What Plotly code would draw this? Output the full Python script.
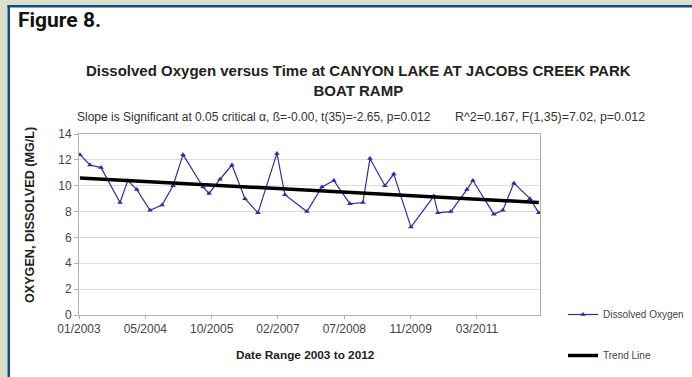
import pandas as pd
import plotly.graph_objects as go

# Sample dates and dissolved oxygen readings (mg/L)
sample_dates = [
    "2003-01-17", "2003-04-03", "2003-06-25", "2003-11-15", "2004-01-13",
    "2004-03-21", "2004-06-28", "2004-09-27", "2004-12-19", "2005-03-04",
    "2005-08-02", "2005-09-16", "2005-12-08", "2006-03-08", "2006-06-14",
    "2006-09-20", "2007-02-10", "2007-04-11", "2007-09-24", "2008-01-15",
    "2008-04-14", "2008-08-13", "2008-11-19", "2009-01-11", "2009-05-04",
    "2009-07-10", "2009-11-16", "2010-05-08", "2010-06-07", "2010-09-13",
    "2011-01-12", "2011-02-26", "2011-08-03", "2011-10-10", "2012-01-01",
    "2012-05-01", "2012-07-07",
]
oxygen = [
    12.4, 11.6, 11.4, 8.7, 10.4, 9.7, 8.1, 8.5, 10.0, 12.4,
    9.9, 9.4, 10.5, 11.6, 9.0, 7.9, 12.5, 9.3, 8.0, 9.9,
    10.4, 8.6, 8.7, 12.1, 10.0, 10.9, 6.8, 9.2, 7.9, 8.0,
    9.7, 10.4, 7.8, 8.1, 10.2, 9.0, 7.9,
]

# Fitted trend line, evaluated at the first and last sample
trend_dates = [sample_dates[0], sample_dates[-1]]
trend_values = [10.6, 8.7]

# Axis ticks: every 500 days from the axis start
axis_start = "2003-01-10"
axis_end = "2012-07-16"
tick_text = ["01/2003", "05/2004", "10/2005", "02/2007", "07/2008", "11/2009", "03/2011"]
tick_vals = list(pd.date_range(axis_start, periods=len(tick_text), freq="500D"))
y_ticks = [0, 2, 4, 6, 8, 10, 12, 14]

W, H = 692, 377
L, R, T, B = 79, 152, 134, 62
PW, PH = W - L - R, H - T - B


def px(x):
    return (x - L) / PW


def py(y):
    return (H - B - y) / PH


FONT = "Liberation Sans, Arial, sans-serif"
BLUE = "#2e2ea0"

fig = go.Figure()
fig.add_trace(go.Scatter(
    x=sample_dates, y=oxygen, mode="lines+markers", name="Dissolved Oxygen",
    line=dict(color=BLUE, width=1.2),
    marker=dict(symbol="triangle-up", size=5, color=BLUE),
    legendgroup="a",
))
fig.add_trace(go.Scatter(
    x=trend_dates, y=trend_values, mode="lines", name="Trend Line",
    line=dict(color="black", width=3.5),
    legendgroup="b",
))

fig.update_layout(
    width=W, height=H,
    margin=dict(l=L, r=R, t=T, b=B, autoexpand=False),
    paper_bgcolor="white", plot_bgcolor="white",
    font=dict(family=FONT, size=11, color="#333333"),
    showlegend=True,
    legend=dict(
        x=px(563), y=py(300), xanchor="left", yanchor="top",
        font=dict(size=10, color="#444444"),
        tracegroupgap=22, bgcolor="rgba(0,0,0,0)",
    ),
    xaxis=dict(
        type="date", range=[axis_start, axis_end],
        tickvals=tick_vals, ticktext=tick_text,
        showgrid=False, showline=True, linecolor="#b0b0b0", linewidth=1,
        mirror=True, ticks="outside", ticklen=3, tickcolor="#b0b0b0",
        tickfont=dict(size=12, color="#444444"), zeroline=False,
    ),
    yaxis=dict(
        range=[0, 14], tickvals=y_ticks,
        showgrid=True, gridcolor="#dcdcdc", gridwidth=1,
        showline=True, linecolor="#b0b0b0", linewidth=1, mirror=True,
        ticks="outside", ticklen=4, tickcolor="#b0b0b0",
        tickfont=dict(size=12, color="#444444"), zeroline=False,
    ),
)

# Page frame: tan margin strips with a blue rule
shapes = [
    dict(type="rect", xref="paper", yref="paper", x0=px(0), x1=px(W), y0=py(0), y1=py(5),
         fillcolor="#dde0c6", line_width=0, layer="above"),
    dict(type="rect", xref="paper", yref="paper", x0=px(0), x1=px(7.5), y0=py(0), y1=py(H),
         fillcolor="#dde0c6", line_width=0, layer="above"),
    dict(type="rect", xref="paper", yref="paper", x0=px(7.5), x1=px(W), y0=py(5), y1=py(7.5),
         fillcolor="#0f4f86", line_width=0, layer="above"),
    dict(type="rect", xref="paper", yref="paper", x0=px(7.5), x1=px(10), y0=py(5), y1=py(H),
         fillcolor="#0f4f86", line_width=0, layer="above"),
]
fig.update_layout(shapes=shapes)

annotations = [
    dict(text="<b>Figure 8.</b>", x=px(16), y=py(20), xanchor="left", yanchor="middle",
         font=dict(family="Roboto, Liberation Sans, sans-serif", size=21, color="#111111")),
    dict(text="<b>Dissolved Oxygen versus Time at CANYON LAKE AT JACOBS CREEK PARK"
              "<br>BOAT RAMP</b>",
         x=px(358), y=py(80), xanchor="center", yanchor="middle",
         font=dict(size=15, color="#222222")),
    dict(text="Slope is Significant at 0.05 critical α, ß=-0.00, t(35)=-2.65, p=0.012",
         x=px(75), y=py(117), xanchor="left", yanchor="middle",
         font=dict(size=12, color="#333333")),
    dict(text="R^2=0.167, F(1,35)=7.02, p=0.012",
         x=px(453), y=py(117), xanchor="left", yanchor="middle",
         font=dict(size=12.4, color="#333333")),
    dict(text="<b>OXYGEN, DISSOLVED (MG/L)</b>", x=px(30), y=py(215), textangle=-90,
         xanchor="center", yanchor="middle", font=dict(size=12.6, color="#222222")),
    dict(text="<b>Date Range 2003 to 2012</b>", x=px(305), y=py(355),
         xanchor="center", yanchor="middle", font=dict(size=11.8, color="#222222")),
]
for a in annotations:
    a.update(xref="paper", yref="paper", showarrow=False)
fig.update_layout(annotations=annotations)

fig.write_html("out.html")
